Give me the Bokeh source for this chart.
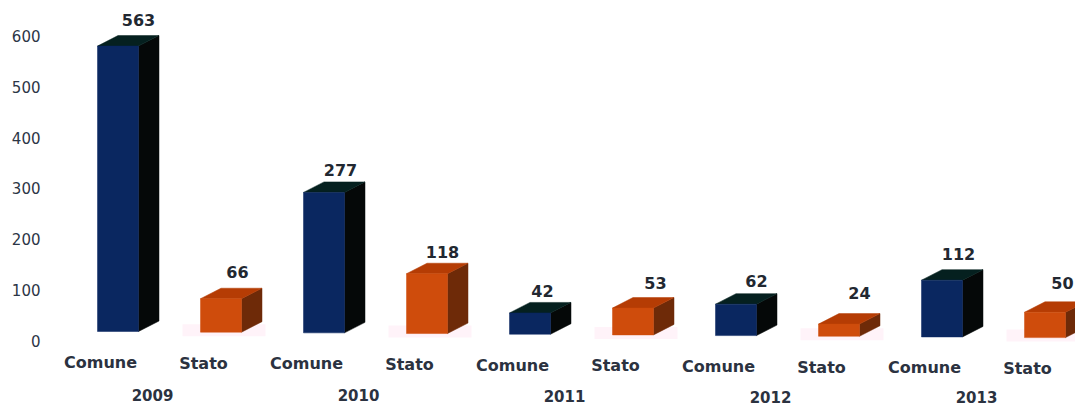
from bokeh.plotting import figure
from bokeh.models import FixedTicker, Range1d
from bokeh.core.properties import value
from bokeh.embed import file_html
from bokeh.resources import INLINE

# ---- data ----
years = ["2009", "2010", "2011", "2012", "2013"]
series = ["Comune", "Stato"]
comune = [563, 277, 42, 62, 112]
stato = [66, 118, 53, 24, 50]
y_ticks = [0, 100, 200, 300, 400, 500, 600]

# ---- layout (px in the 1075x407 picture) ----
W, H = 1075, 407
LEFT = 46
PX_Y = 0.507            # px per value unit
PX_X = 103.0            # px per bar slot
ZERO_Y = 340            # picture y of value 0
X0 = 117.5              # picture x of first bar's centre
TILT = 0.68             # the scan is slightly rotated: px drop per slot
FONT = "DejaVu Sans"
label_nudge_x = [2.5, -1.5, -1.5, -2.5, -5.5, 4.5, 2.5, 2.5, -1.5, -0.5]
label_nudge_y = [4, 4, 0, -1, -1, 3, 1, 9, 4, 7]

def ux(px):
    return px / PX_X

def uy(px):
    return px / PX_Y

vals = [v for pair in zip(comune, stato) for v in pair]
kinds = [k for _ in years for k in series]
n = len(vals)
half = ux(20.5)
dx, dy = ux(20.5), uy(10.5)

x_range = Range1d((LEFT - X0) / PX_X, (W - X0) / PX_X)
y_range = Range1d(uy(ZERO_Y - H), uy(ZERO_Y))

p = figure(width=W, height=H, x_range=x_range, y_range=y_range,
           output_backend="svg", toolbar_location=None,
           min_border_left=LEFT, min_border_right=0, min_border_top=0, min_border_bottom=0,
           background_fill_color="white", border_fill_color="white")
p.outline_line_color = None
p.grid.visible = False
p.xaxis.visible = False
ax = p.yaxis[0]
ax.ticker = FixedTicker(ticks=y_ticks)
ax.axis_line_color = None
ax.major_tick_line_color = None
ax.minor_tick_line_color = None
ax.major_tick_out = 0
ax.major_label_standoff = 6
ax.major_label_text_font = FONT
ax.major_label_text_font_size = "15px"
ax.major_label_text_color = "#2c3646"

# base of each front face, in value units
base = [uy(ZERO_Y - (331 + TILT * i)) for i in range(n)]
top = [b + v for b, v in zip(base, vals)]
left = [i - half for i in range(n)]
right = [i + half for i in range(n)]

FRONT = {"Comune": "#0a2760", "Stato": "#cf4c0c"}
SIDE = {"Comune": "#050808", "Stato": "#6e2a08"}
CAP = {"Comune": "#05201f", "Stato": "#b53c04"}
GLOW = "#fff3f9"

# faint pink smudge under the orange bars
gi = [i for i in range(n) if kinds[i] == "Stato"]
p.quad(left=[left[i] - ux(18) for i in gi], right=[right[i] + ux(24) for i in gi],
       bottom=[base[i] - uy(4) for i in gi], top=[base[i] + uy(8) for i in gi],
       fill_color=GLOW, line_color=None)

side_c = [SIDE[k] for k in kinds]
cap_c = [CAP[k] for k in kinds]
front_c = [FRONT[k] for k in kinds]
p.patches(
    xs=[[right[i], right[i] + dx, right[i] + dx, right[i]] for i in range(n)],
    ys=[[base[i], base[i] + dy, top[i] + dy, top[i]] for i in range(n)],
    fill_color=side_c, line_color=side_c, line_width=0.5)
p.patches(
    xs=[[left[i], left[i] + dx, right[i] + dx, right[i]] for i in range(n)],
    ys=[[top[i], top[i] + dy, top[i] + dy, top[i]] for i in range(n)],
    fill_color=cap_c, line_color=cap_c, line_width=0.5)
p.quad(left=left, right=right, bottom=base, top=top,
       fill_color=front_c, line_color=front_c, line_width=0.5)

# value labels
p.text(x=[i + ux(18 + label_nudge_x[i]) for i in range(n)],
       y=[top[i] + dy + uy(12 + label_nudge_y[i]) for i in range(n)],
       text=[str(v) for v in vals],
       text_font=value(FONT), text_font_size=value("16px"), text_font_style="bold",
       text_color="#222831", text_align="center", text_baseline="middle")

# category labels (tilted with the scan)
p.text(x=[i - ux(17.5) for i in range(n)],
       y=[uy(ZERO_Y - (362 + TILT * i)) for i in range(n)],
       text=kinds,
       text_font=value(FONT), text_font_size=value("16px"), text_font_style="bold",
       text_color="#2b3240", text_align="center", text_baseline="middle")

# year labels (kept just clear of the bottom edge)
p.text(x=[2 * j + ux(34.5) for j in range(len(years))],
       y=[uy(ZERO_Y - (394 + 0.7 * j)) for j in range(len(years))],
       text=years,
       text_font=value(FONT), text_font_size=value("15px"), text_font_style="bold",
       text_color="#2b3240", text_align="center", text_baseline="middle")

open("out.html", "w").write(file_html(p, INLINE))
